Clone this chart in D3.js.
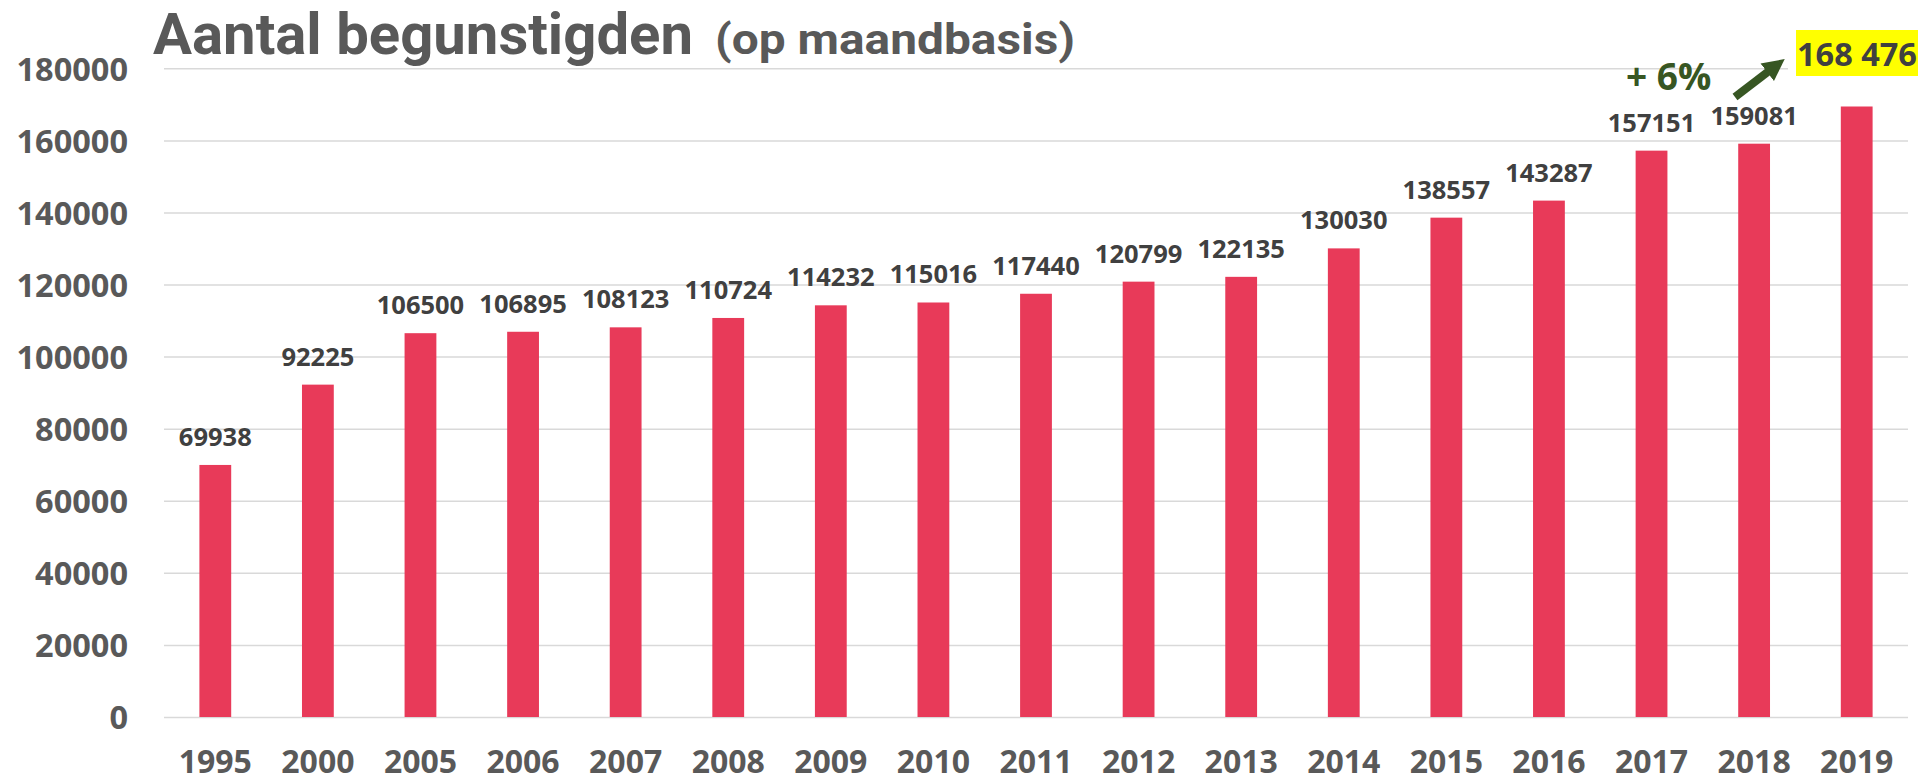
<!DOCTYPE html>
<html lang="nl">
<head>
    <meta charset="UTF-8">
    <title>Aantal begunstigden</title>
    <script src="https://cdn.jsdelivr.net/npm/d3@7"></script>
    <style>
        body { margin: 0; background: #fff; }
        text { font-family: "Open Sans", sans-serif; font-weight: bold; }
        text.title { font-family: Roboto, "Open Sans", sans-serif; }
    </style>
</head>
<body>
<script>
    const years  = ["1995","2000","2005","2006","2007","2008","2009","2010","2011","2012","2013","2014","2015","2016","2017","2018","2019"];
    const values = [69938, 92225, 106500, 106895, 108123, 110724, 114232, 115016, 117440, 120799, 122135, 130030, 138557, 143287, 157151, 159081, 169400];
    // 2019 has no label on the bar itself, only the yellow callout
    const labels = ["69938","92225","106500","106895","108123","110724","114232","115016","117440","120799","122135","130030","138557","143287","157151","159081",""];
    const yTicks = [0, 20000, 40000, 60000, 80000, 100000, 120000, 140000, 160000, 180000];
    const growthText = "+ 6%";
    const calloutText = "168 476";

    const width = 1932, height = 782;
    const plotLeft = 164, plotRight = 1908, plotTop = 68.3, plotBottom = 717;

    const svg = d3.select("body").append("svg")
        .attr("width", width).attr("height", height);

    const x = d3.scaleBand().domain(years).range([plotLeft, plotRight]).paddingInner(0.69).paddingOuter(0.345);
    const y = d3.scaleLinear().domain([0, 180000]).range([plotBottom, plotTop]);

    // grid + y labels
    const yAxis = svg.append("g")
        .attr("transform", `translate(${plotLeft},0)`)
        .call(d3.axisLeft(y).tickValues(yTicks).tickSize(-(plotRight - plotLeft)).tickPadding(36).tickFormat(d3.format("d")));
    yAxis.select(".domain").remove();
    yAxis.selectAll(".tick line").attr("stroke", "#d9d9d9").attr("stroke-width", 1.5);
    yAxis.selectAll(".tick text")
        .attr("fill", "#595959")
        .style("font-size", "32.5px")
        .attr("dy", "0.36em");

    // x labels
    const xAxis = svg.append("g")
        .attr("transform", `translate(0,${plotBottom})`)
        .call(d3.axisBottom(x).tickSize(0));
    xAxis.select(".domain").remove();
    xAxis.selectAll(".tick text")
        .attr("fill", "#595959")
        .style("font-size", "32px")
        .attr("y", 56).attr("dy", 0);

    // bars
    svg.append("g").selectAll("rect")
        .data(values)
        .join("rect")
        .attr("x", (d, i) => x(years[i]))
        .attr("y", d => y(d))
        .attr("width", x.bandwidth())
        .attr("height", d => y(0) - y(d))
        .attr("fill", "#e83a59");

    // value labels
    svg.append("g").selectAll("text")
        .data(values)
        .join("text")
        .attr("x", (d, i) => x(years[i]) + x.bandwidth() / 2)
        .attr("y", d => y(d) - 19)
        .attr("text-anchor", "middle")
        .attr("fill", "#404040")
        .style("font-size", "25.5px")
        .text((d, i) => labels[i]);

    // title
    svg.append("text")
        .attr("class", "title")
        .attr("x", 153).attr("y", 54)
        .attr("fill", "#595959")
        .style("font-size", "57px")
        .attr("textLength", 540).attr("lengthAdjust", "spacingAndGlyphs")
        .text("Aantal begunstigden");
    svg.append("text")
        .attr("class", "title")
        .attr("x", 715).attr("y", 54)
        .attr("fill", "#595959")
        .style("font-size", "42px")
        .attr("textLength", 360).attr("lengthAdjust", "spacingAndGlyphs")
        .text("(op maandbasis)");

    // growth annotation
    const green = "#375623";
    svg.append("rect")
        .attr("x", 1788).attr("y", 28).attr("width", 144).attr("height", 52)
        .attr("fill", "#fff");
    svg.append("text")
        .attr("x", 1626).attr("y", 90)
        .attr("fill", green)
        .style("font-size", "37px")
        .text(growthText);

    svg.append("defs").append("marker")
        .attr("id", "head")
        .attr("markerUnits", "userSpaceOnUse")
        .attr("viewBox", "0 0 10 10")
        .attr("refX", 1).attr("refY", 5)
        .attr("markerWidth", 22).attr("markerHeight", 26)
        .attr("orient", "auto")
        .append("path").attr("d", "M0,0L10,5L0,10Z").attr("fill", green);
    svg.append("line")
        .attr("x1", 1735).attr("y1", 97)
        .attr("x2", 1769).attr("y2", 71)
        .attr("stroke", green).attr("stroke-width", 8)
        .attr("marker-end", "url(#head)");

    svg.append("rect")
        .attr("x", 1796).attr("y", 30).attr("width", 122).attr("height", 46)
        .attr("fill", "#ffff00");
    svg.append("text")
        .attr("x", 1857).attr("y", 65.5)
        .attr("text-anchor", "middle")
        .attr("fill", "#404040")
        .style("font-size", "32.5px")
        .text(calloutText);
</script>
</body>
</html>
